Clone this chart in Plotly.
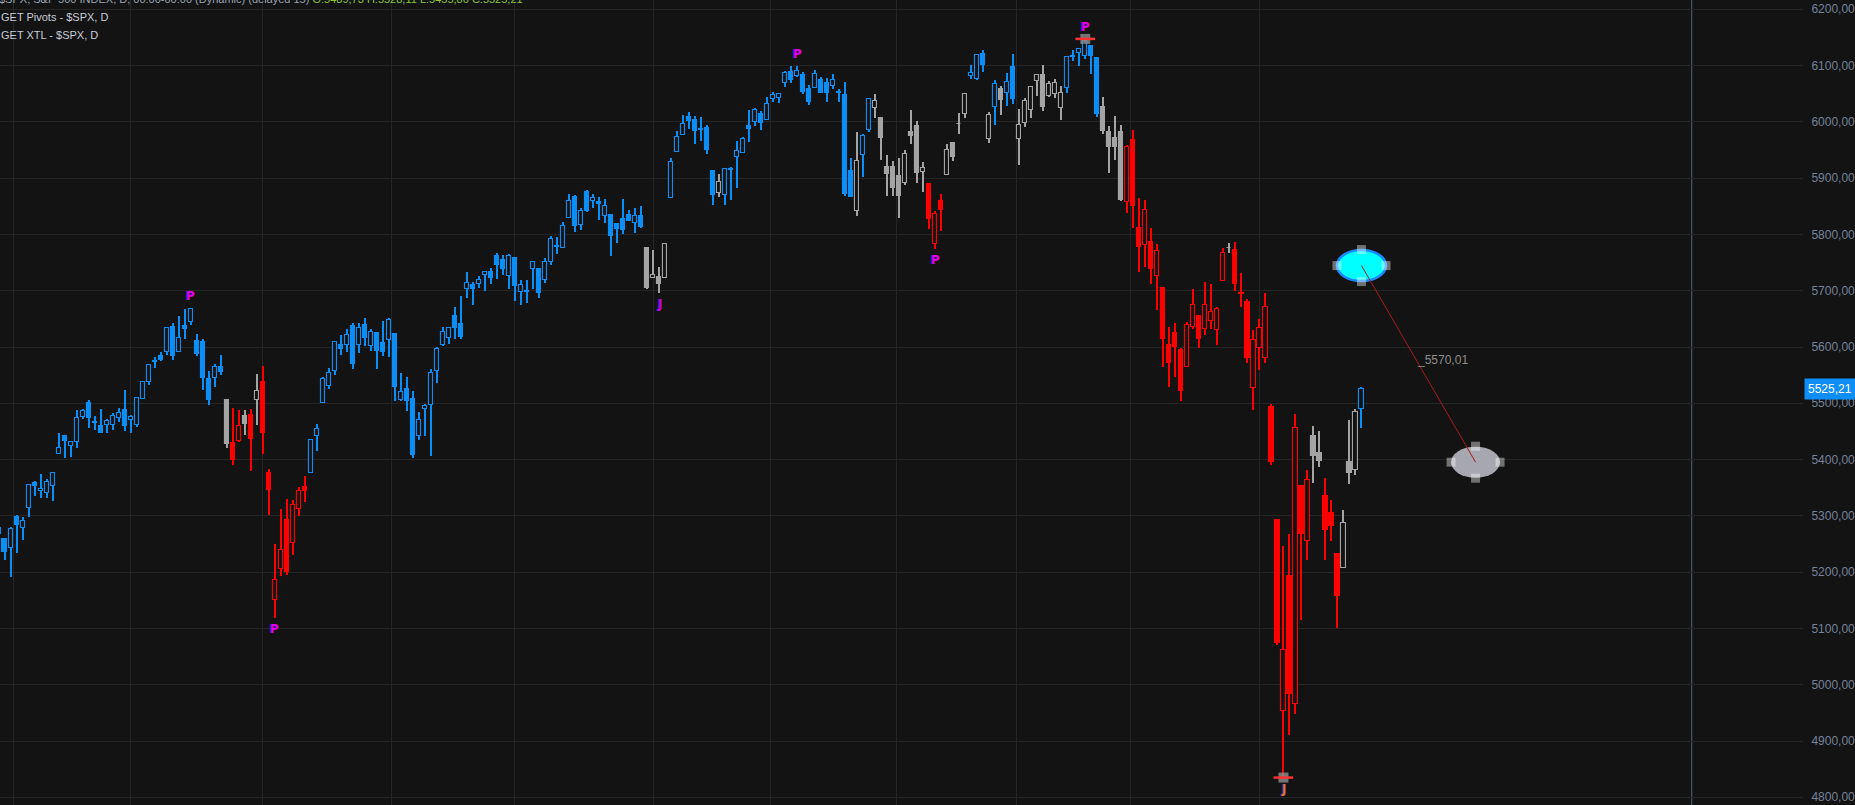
import numpy as np
import plotly.graph_objects as go

# ---------------- data (S&P 500 daily) ----------------
dates = [
    "2024-05-29", "2024-05-30", "2024-05-31",
    "2024-06-03", "2024-06-04", "2024-06-05", "2024-06-06", "2024-06-07", "2024-06-10", "2024-06-11",
    "2024-06-12", "2024-06-13", "2024-06-14", "2024-06-17", "2024-06-18", "2024-06-20", "2024-06-21",
    "2024-06-24", "2024-06-25", "2024-06-26", "2024-06-27", "2024-06-28",
    "2024-07-01", "2024-07-02", "2024-07-03", "2024-07-05", "2024-07-08", "2024-07-09", "2024-07-10",
    "2024-07-11", "2024-07-12", "2024-07-15", "2024-07-16", "2024-07-17", "2024-07-18", "2024-07-19",
    "2024-07-22", "2024-07-23", "2024-07-24", "2024-07-25", "2024-07-26", "2024-07-29", "2024-07-30",
    "2024-07-31",
    "2024-08-01", "2024-08-02", "2024-08-05", "2024-08-06", "2024-08-07", "2024-08-08", "2024-08-09",
    "2024-08-12", "2024-08-13", "2024-08-14", "2024-08-15", "2024-08-16", "2024-08-19", "2024-08-20",
    "2024-08-21", "2024-08-22", "2024-08-23", "2024-08-26", "2024-08-27", "2024-08-28", "2024-08-29",
    "2024-08-30",
    "2024-09-03", "2024-09-04", "2024-09-05", "2024-09-06", "2024-09-09", "2024-09-10", "2024-09-11",
    "2024-09-12", "2024-09-13", "2024-09-16", "2024-09-17", "2024-09-18", "2024-09-19", "2024-09-20",
    "2024-09-23", "2024-09-24", "2024-09-25", "2024-09-26", "2024-09-27", "2024-09-30",
    "2024-10-01", "2024-10-02", "2024-10-03", "2024-10-04", "2024-10-07", "2024-10-08", "2024-10-09",
    "2024-10-10", "2024-10-11", "2024-10-14", "2024-10-15", "2024-10-16", "2024-10-17", "2024-10-18",
    "2024-10-21", "2024-10-22", "2024-10-23", "2024-10-24", "2024-10-25", "2024-10-28", "2024-10-29",
    "2024-10-30", "2024-10-31",
    "2024-11-01", "2024-11-04", "2024-11-05", "2024-11-06", "2024-11-07", "2024-11-08", "2024-11-11",
    "2024-11-12", "2024-11-13", "2024-11-14", "2024-11-15", "2024-11-18", "2024-11-19", "2024-11-20",
    "2024-11-21", "2024-11-22", "2024-11-25", "2024-11-26", "2024-11-27", "2024-11-29",
    "2024-12-02", "2024-12-03", "2024-12-04", "2024-12-05", "2024-12-06", "2024-12-09", "2024-12-10",
    "2024-12-11", "2024-12-12", "2024-12-13", "2024-12-16", "2024-12-17", "2024-12-18", "2024-12-19",
    "2024-12-20", "2024-12-23", "2024-12-24", "2024-12-26", "2024-12-27", "2024-12-30", "2024-12-31",
    "2025-01-02", "2025-01-03", "2025-01-06", "2025-01-07", "2025-01-08", "2025-01-10", "2025-01-13",
    "2025-01-14", "2025-01-15", "2025-01-16", "2025-01-17", "2025-01-21", "2025-01-22", "2025-01-23",
    "2025-01-24", "2025-01-27", "2025-01-28", "2025-01-29", "2025-01-30", "2025-01-31",
    "2025-02-03", "2025-02-04", "2025-02-05", "2025-02-06", "2025-02-07", "2025-02-10", "2025-02-11",
    "2025-02-12", "2025-02-13", "2025-02-14", "2025-02-18", "2025-02-19", "2025-02-20", "2025-02-21",
    "2025-02-24", "2025-02-25", "2025-02-26", "2025-02-27", "2025-02-28",
    "2025-03-03", "2025-03-04", "2025-03-05", "2025-03-06", "2025-03-07", "2025-03-10", "2025-03-11",
    "2025-03-12", "2025-03-13", "2025-03-14", "2025-03-17", "2025-03-18", "2025-03-19", "2025-03-20",
    "2025-03-21", "2025-03-24", "2025-03-25", "2025-03-26", "2025-03-27", "2025-03-28", "2025-03-31",
    "2025-04-01", "2025-04-02", "2025-04-03", "2025-04-04", "2025-04-07", "2025-04-08", "2025-04-09",
    "2025-04-10", "2025-04-11", "2025-04-14", "2025-04-15", "2025-04-16", "2025-04-17", "2025-04-21",
    "2025-04-22", "2025-04-23", "2025-04-24", "2025-04-25",
]

opens = [
    5278.73, 5259.77, 5243.21,
    5297.15, 5278.24, 5314.48, 5357.80, 5343.81, 5341.22, 5353.00, 5409.13, 5441.93, 5424.08, 5431.11,
    5476.15, 5499.99, 5466.77, 5459.58, 5460.73, 5460.71, 5473.59, 5488.48,
    5471.08, 5461.84, 5507.44, 5537.91, 5572.75, 5584.24, 5591.26, 5635.21, 5590.76, 5638.16, 5644.09,
    5610.07, 5608.56, 5543.37, 5544.59, 5565.30, 5505.84, 5428.70, 5433.67, 5476.55, 5478.73, 5505.59,
    5537.84, 5376.63, 5151.14, 5206.42, 5293.13, 5252.57, 5312.70, 5351.88, 5376.98, 5442.59, 5501.13,
    5530.50, 5557.23, 5602.88, 5603.09, 5637.77, 5602.89, 5639.66, 5602.42, 5624.51, 5607.30, 5612.74,
    5623.89, 5506.68, 5524.66, 5507.33, 5442.07, 5490.51, 5496.42, 5557.48, 5603.34, 5615.21, 5655.51,
    5641.68, 5702.63, 5709.42, 5711.90, 5727.86, 5733.65, 5762.22, 5755.36, 5726.52,
    5757.73, 5698.19, 5698.18, 5737.80, 5737.80, 5719.14, 5751.80, 5778.36, 5775.09, 5829.81, 5866.74,
    5816.58, 5875.62, 5859.43, 5857.82, 5832.70, 5834.50, 5817.80, 5826.75, 5833.93, 5819.68, 5832.65,
    5775.34,
    5723.22, 5725.15, 5722.43, 5864.89, 5947.21, 5976.76, 6008.86, 6003.60, 5985.75, 5989.68, 5912.79,
    5874.17, 5870.00, 5914.84, 5938.00, 5944.36, 5992.28, 6000.03, 6014.11, 6003.98,
    6040.11, 6042.97, 6069.39, 6089.03, 6081.38, 6083.01, 6057.59, 6060.15, 6074.29, 6068.17, 6063.79,
    6052.55, 6047.65, 5912.71, 5842.00, 5940.25, 5984.74, 6024.97, 6006.17, 5920.67, 5919.74,
    5903.26, 5891.07, 5982.81, 5993.26, 5910.66, 5890.41, 5782.17, 5859.94, 5905.21, 5961.75, 5995.36,
    6014.12, 6081.39, 6076.32, 6121.43, 5969.04, 6026.97, 6057.70, 6050.75, 6096.79,
    5969.65, 5998.14, 6020.45, 6072.22, 6083.13, 6046.40, 6049.32, 6025.08, 6060.59, 6115.52, 6121.60,
    6117.76, 6134.50, 6114.10, 6026.69, 5982.73, 5970.87, 5981.88, 5856.74,
    5968.33, 5811.98, 5781.40, 5785.87, 5726.01, 5705.37, 5603.65, 5624.84, 5594.45, 5563.85, 5635.60,
    5654.53, 5632.37, 5646.92, 5630.73, 5718.08, 5775.08, 5771.66, 5695.64, 5679.41, 5527.91,
    5597.53, 5580.76, 5492.74, 5292.14, 4953.79, 5193.57, 4965.28, 5353.15, 5255.56, 5441.96, 5411.99,
    5335.75, 5305.45, 5232.94, 5207.67, 5395.92, 5381.38, 5489.73,
]

highs = [
    5282.26, 5260.21, 5280.33,
    5302.11, 5298.80, 5354.16, 5362.35, 5375.08, 5365.79, 5375.95, 5447.25, 5441.93, 5432.39, 5488.50,
    5490.38, 5505.53, 5478.31, 5490.66, 5472.88, 5483.14, 5490.81, 5523.64,
    5479.55, 5509.69, 5539.27, 5570.33, 5583.11, 5590.75, 5635.39, 5642.45, 5655.56, 5666.94, 5669.67,
    5622.49, 5614.05, 5557.50, 5570.36, 5585.34, 5508.04, 5491.59, 5488.32, 5487.74, 5489.46, 5551.51,
    5566.16, 5383.89, 5250.89, 5312.34, 5330.64, 5328.03, 5351.50, 5371.20, 5436.50, 5463.22, 5546.23,
    5561.98, 5608.30, 5620.51, 5632.68, 5643.22, 5641.82, 5651.62, 5631.18, 5627.03, 5646.95, 5651.37,
    5623.89, 5552.99, 5546.30, 5522.47, 5484.20, 5497.91, 5560.41, 5600.71, 5636.27, 5636.05, 5670.81,
    5689.75, 5733.57, 5715.14, 5725.36, 5735.32, 5741.03, 5767.37, 5763.78, 5765.14,
    5757.73, 5719.14, 5718.78, 5753.65, 5739.34, 5757.60, 5796.80, 5795.03, 5822.13, 5871.41, 5870.36,
    5846.52, 5878.46, 5872.17, 5866.92, 5863.04, 5834.85, 5817.80, 5862.82, 5842.92, 5847.19, 5850.94,
    5775.34,
    5772.46, 5741.43, 5783.44, 5936.14, 5983.84, 6012.45, 6017.31, 6009.92, 6008.19, 5993.88, 5915.10,
    5908.12, 5917.11, 5920.67, 5965.97, 5972.90, 6020.75, 6025.42, 6020.16, 6044.17,
    6053.58, 6052.07, 6089.84, 6099.97, 6099.97, 6088.51, 6065.40, 6092.59, 6079.68, 6078.58, 6085.19,
    6057.68, 6070.67, 5935.52, 5982.06, 5978.25, 6040.10, 6049.75, 6006.17, 5940.79, 5929.74,
    5935.09, 5949.34, 6021.04, 6000.68, 5927.89, 5890.41, 5841.80, 5871.92, 5960.61, 5964.69, 6014.96,
    6051.51, 6100.81, 6118.73, 6128.18, 6017.17, 6074.54, 6062.83, 6086.64, 6120.91,
    6022.13, 6042.48, 6062.86, 6084.03, 6101.28, 6073.38, 6076.28, 6063.45, 6116.91, 6127.47, 6129.63,
    6147.43, 6134.50, 6114.82, 6043.65, 5992.65, 6009.82, 5993.69, 5959.40,
    5986.09, 5865.08, 5860.59, 5812.08, 5783.01, 5705.37, 5636.30, 5642.19, 5597.78, 5645.27, 5703.52,
    5654.53, 5715.33, 5711.15, 5670.84, 5775.14, 5783.95, 5786.95, 5732.28, 5685.89, 5630.43,
    5650.57, 5695.31, 5499.53, 5292.14, 5246.57, 5267.47, 5481.34, 5353.15, 5381.46, 5459.46, 5450.41,
    5367.24, 5328.31, 5232.94, 5309.60, 5469.69, 5489.40, 5528.11,
]

lows = [
    5262.70, 5222.10, 5191.68,
    5234.32, 5257.63, 5297.64, 5335.36, 5331.33, 5331.52, 5327.25, 5409.13, 5403.41, 5403.75, 5420.40,
    5471.32, 5455.56, 5452.03, 5447.59, 5446.56, 5451.87, 5467.54, 5451.12,
    5446.53, 5458.43, 5507.42, 5531.63, 5562.51, 5574.57, 5586.44, 5576.53, 5590.44, 5614.75, 5639.02,
    5584.81, 5522.81, 5497.04, 5529.04, 5550.90, 5419.98, 5390.95, 5430.70, 5444.44, 5379.35, 5461.66,
    5410.42, 5302.03, 5119.26, 5193.56, 5195.54, 5231.18, 5300.00, 5324.37, 5376.98, 5415.70, 5501.13,
    5525.17, 5550.74, 5585.50, 5591.57, 5560.95, 5590.16, 5602.34, 5593.48, 5560.95, 5583.71, 5581.79,
    5504.33, 5503.66, 5485.51, 5402.62, 5434.49, 5441.72, 5406.96, 5535.50, 5601.65, 5604.53, 5614.05,
    5615.08, 5686.42, 5674.49, 5704.94, 5698.99, 5712.06, 5721.01, 5727.34, 5703.53,
    5681.28, 5674.00, 5677.37, 5702.96, 5686.85, 5714.56, 5745.02, 5764.76, 5775.09, 5829.81, 5804.48,
    5808.34, 5840.25, 5846.11, 5824.82, 5821.17, 5762.41, 5784.92, 5799.98, 5823.08, 5802.90, 5811.28,
    5703.67,
    5723.22, 5696.51, 5722.10, 5864.89, 5947.21, 5976.76, 5986.69, 5960.08, 5965.91, 5942.28, 5853.01,
    5865.95, 5853.01, 5860.57, 5882.00, 5944.36, 5963.91, 5992.27, 5984.87, 6003.98,
    6035.33, 6033.39, 6061.06, 6069.38, 6079.98, 6048.63, 6029.89, 6060.15, 6051.25, 6035.77, 6059.14,
    6035.19, 5867.79, 5866.07, 5832.30, 5902.57, 5981.44, 6007.37, 5932.95, 5869.16, 5868.86,
    5829.53, 5888.66, 5960.01, 5890.68, 5874.78, 5809.61, 5773.31, 5805.45, 5905.21, 5931.00, 5978.44,
    6006.88, 6076.13, 6074.67, 6088.74, 5962.92, 5994.63, 6012.96, 6027.46, 6030.93,
    5923.93, 5990.87, 6007.06, 6046.83, 6019.96, 6044.84, 6042.34, 6003.00, 6051.00, 6107.62, 6099.51,
    6111.15, 6084.59, 6008.56, 5977.83, 5908.49, 5932.69, 5858.78, 5837.66,
    5810.91, 5732.59, 5742.35, 5711.64, 5666.29, 5564.02, 5528.41, 5546.09, 5504.65, 5563.85, 5631.12,
    5597.76, 5622.20, 5632.30, 5603.10, 5718.08, 5767.26, 5699.84, 5670.94, 5572.42, 5488.73,
    5558.52, 5571.48, 5390.83, 5069.90, 4835.04, 4910.42, 4948.43, 5115.27, 5220.77, 5358.02, 5386.44,
    5220.79, 5255.58, 5101.63, 5207.67, 5356.50, 5371.96, 5455.86,
]

closes = [
    5266.95, 5235.48, 5277.51,
    5283.40, 5291.34, 5354.03, 5352.96, 5346.99, 5360.79, 5375.32, 5421.03, 5433.74, 5431.60, 5473.23,
    5487.03, 5473.17, 5464.62, 5447.87, 5469.30, 5477.90, 5482.87, 5460.48,
    5475.09, 5509.01, 5537.02, 5567.19, 5572.85, 5576.98, 5633.91, 5584.54, 5615.35, 5631.22, 5667.20,
    5588.27, 5544.59, 5505.00, 5564.41, 5555.74, 5427.13, 5399.22, 5459.10, 5463.54, 5436.44, 5522.30,
    5446.68, 5346.56, 5186.33, 5240.03, 5199.50, 5319.31, 5344.16, 5344.39, 5434.43, 5455.21, 5543.22,
    5554.25, 5608.25, 5597.12, 5620.85, 5570.64, 5634.61, 5616.84, 5625.80, 5592.18, 5591.96, 5648.40,
    5528.93, 5520.07, 5503.41, 5408.42, 5471.05, 5495.52, 5554.13, 5595.76, 5626.02, 5633.09, 5634.58,
    5618.26, 5713.64, 5702.55, 5718.57, 5732.93, 5722.26, 5745.37, 5738.17, 5762.48,
    5708.75, 5709.54, 5699.94, 5751.07, 5695.94, 5751.13, 5792.04, 5780.05, 5815.03, 5859.85, 5815.26,
    5842.47, 5841.47, 5864.67, 5853.98, 5851.20, 5797.42, 5809.86, 5808.12, 5823.52, 5832.92, 5813.67,
    5705.45,
    5728.80, 5712.69, 5782.76, 5929.04, 5973.10, 5995.54, 6001.35, 5983.99, 5985.38, 5949.17, 5870.62,
    5893.62, 5916.98, 5917.11, 5948.71, 5969.34, 5987.37, 6021.63, 5998.74, 6032.38,
    6047.15, 6049.88, 6086.49, 6075.11, 6090.27, 6052.85, 6034.91, 6084.19, 6051.25, 6051.09, 6074.08,
    6050.61, 5872.16, 5867.08, 5930.85, 5974.07, 6040.04, 6037.59, 5970.84, 5906.94, 5881.63,
    5868.55, 5942.47, 5975.38, 5909.03, 5918.25, 5827.04, 5836.22, 5842.91, 5949.91, 5937.34, 5996.66,
    6049.24, 6086.37, 6118.71, 6101.24, 6012.28, 6067.70, 6039.31, 6071.17, 6040.53,
    5994.57, 6037.88, 6061.48, 6083.57, 6025.99, 6066.44, 6068.50, 6051.97, 6115.07, 6114.63, 6129.58,
    6144.15, 6117.52, 6013.13, 5983.25, 5955.25, 5956.06, 5861.57, 5954.50,
    5849.72, 5778.15, 5842.63, 5738.52, 5770.20, 5614.56, 5572.07, 5599.30, 5521.52, 5638.94, 5675.12,
    5614.66, 5675.29, 5662.89, 5667.56, 5767.57, 5776.65, 5712.20, 5693.31, 5580.94, 5611.85,
    5633.07, 5670.97, 5396.52, 5074.08, 5062.25, 4982.77, 5456.90, 5268.05, 5363.36, 5405.97, 5396.63,
    5275.70, 5282.70, 5158.20, 5287.76, 5375.86, 5484.77, 5525.21,
]

# trend state segments: (first date of segment, state)  B = blue, G = gray, R = red
trend_start = ["2024-05-29", "2024-07-24", "2024-07-25", "2024-07-29", "2024-07-30", "2024-07-31",
               "2024-08-01", "2024-08-13", "2024-10-31", "2024-11-06", "2024-11-18", "2024-11-19",
               "2024-12-20", "2024-12-23", "2024-12-26", "2025-01-10", "2025-01-15", "2025-01-22",
               "2025-01-27", "2025-01-28", "2025-01-29", "2025-01-30", "2025-02-03", "2025-02-13",
               "2025-02-24", "2025-02-28", "2025-03-25", "2025-03-26", "2025-04-14", "2025-04-16",
               "2025-04-22", "2025-04-25"]
trend_state = ["B", "G", "R", "G", "R", "G",
               "R", "B", "G", "B", "G", "B",
               "G", "B", "G", "R", "G", "B",
               "G", "B", "G", "B", "G", "B",
               "G", "R", "G", "R", "G", "R",
               "G", "B"]

# pivot labels
pivot_date = ["2024-07-16", "2024-08-05", "2024-11-04", "2024-12-06", "2025-01-13", "2025-02-19", "2025-04-07"]
pivot_text = ["P", "P", "J", "P", "P", "P", "J"]
pivot_at = ["high", "low", "low", "high", "low", "high", "low"]
pivot_color = ["#e400e4", "#e400e4", "#d000d8", "#e400e4", "#e400e4", "#e400e4", "#e0743c"]
marked_date = ["2025-02-19", "2025-04-07"]
marked_at = ["high", "low"]

# projection drawing (two anchor points: bar position, price)
drawing_bar = [226, 245]
drawing_price = [5744.65, 5395.37]

# ---------------- figure ----------------
n = len(dates)
lens = [len(opens), len(highs), len(lows), len(closes), n]
if len(set(lens)) != 1:
    raise ValueError(f"length mismatch {lens}")
x = np.arange(n) - 1
o = np.array(opens); h = np.array(highs); l = np.array(lows); c = np.array(closes)
trend = []
for d in dates:
    st = None
    for s, k in zip(trend_start, trend_state):
        if d >= s:
            st = k
    trend.append(st)
tr = np.array(trend)

BG = "#131313"
GRID = "#252525"
COL = {"B": "#0b8ef6", "G": "#a4a4a4", "R": "#ff0000"}

fig = go.Figure()

# wicks
for k in "BGR":
    m = tr == k
    fig.add_trace(go.Bar(x=x[m], base=l[m], y=(h - l)[m], width=0.17,
                         marker=dict(color=COL[k], line=dict(width=0)),
                         hoverinfo="skip", showlegend=False))
# bodies (filled = close < open, hollow = close >= open)
for k in "BGR":
    for up in (False, True):
        m = (tr == k) & ((c >= o) == up)
        base = np.minimum(o, c)[m]
        ht = np.maximum(np.abs(c - o)[m], 1.6)
        fig.add_trace(go.Bar(x=x[m], base=base, y=ht, width=0.7,
                             marker=dict(color=BG if up else COL[k],
                                         line=dict(color=COL[k], width=1.1)),
                             hoverinfo="skip", showlegend=False))

# pivot box markers
mi = [dates.index(d) for d in marked_date]
mx = [x[i] for i in mi]
my = [h[i] if s == "high" else l[i] for i, s in zip(mi, marked_at)]
fig.add_trace(go.Scatter(x=mx, y=my, mode="markers",
                         marker=dict(symbol="square", size=10, color="rgba(150,150,150,0.75)",
                                     line=dict(width=0)), hoverinfo="skip", showlegend=False))
fig.add_trace(go.Scatter(x=mx, y=my, mode="markers",
                         marker=dict(symbol="line-ew", size=14, line=dict(color="#ff3030", width=2.5)),
                         hoverinfo="skip", showlegend=False))

annotations = []
for d, t, s, col in zip(pivot_date, pivot_text, pivot_at, pivot_color):
    i = dates.index(d)
    yv = h[i] if s == "high" else l[i]
    ys = 12 if s == "high" else -11
    for xs, cc in ((-1, "#3a22c8"), (0, col)):
        annotations.append(dict(x=x[i], y=yv, xref="x", yref="y", text=t, showarrow=False,
                                yshift=ys, xshift=xs, yanchor="middle",
                                font=dict(family="DejaVu Sans", size=12, color=cc, weight="bold")))

def fmt(v):
    return f"{v:.2f}".replace(".", ",")

# midpoint label of the projection line
mid_bar = (drawing_bar[0] + drawing_bar[1]) / 2
mid_price = (drawing_price[0] + drawing_price[1]) / 2
annotations.append(dict(x=mid_bar, y=mid_price, xref="x", yref="y", text="_" + fmt(mid_price),
                        showarrow=False, xanchor="left", yanchor="middle", xshift=-4, yshift=4,
                        font=dict(family="Liberation Sans", size=12, color="#8d8d8d")))

# last price tag
annotations.append(dict(x=1, y=c[-1], xref="paper", yref="y", text=fmt(c[-1]), showarrow=False,
                        xanchor="left", yanchor="middle", xshift=1, bgcolor="#0e8ef6", borderpad=3,
                        font=dict(family="Liberation Sans", size=12, color="#ffffff")))

# header texts
hdr = ("$SPX, S&amp;P 500 INDEX, D, 00:00-00:00 (Dynamic) (delayed 15) "
       f"<span style='color:#8cc43c'>O:{fmt(o[-1])} H:{fmt(h[-1])} L:{fmt(l[-1])} C:{fmt(c[-1])}</span>")
annotations.append(dict(x=0, y=1, xref="paper", yref="paper", text=hdr, showarrow=False,
                        xanchor="left", yanchor="middle", xshift=-3, yshift=1,
                        font=dict(family="Liberation Sans", size=11, color="#9aa2b0")))
for txt, ys in (("GET Pivots - $SPX, D", -17), ("GET XTL - $SPX, D", -35)):
    annotations.append(dict(x=0, y=1, xref="paper", yref="paper", text=txt, showarrow=False,
                            xanchor="left", yanchor="middle", xshift=-1, yshift=ys,
                            font=dict(family="Liberation Sans", size=11, color="#c6ccd8")))

# month grid lines
month_lines = []
for i in range(1, n):
    if dates[i][5:7] != dates[i - 1][5:7]:
        month_lines.append(float(x[i]) - (0 if int(dates[i][8:10]) == 1 else 0.5))

# shapes: projection drawing
shapes = []
def ellipse(xa, ya, fill, line):
    return dict(type="circle", xref="x", yref="y", xsizemode="pixel", ysizemode="pixel",
                xanchor=xa, yanchor=ya, x0=-24.5, x1=24.5, y0=-15.5, y1=15.5,
                fillcolor=fill, line=line, layer="above")
def handle(xa, ya, dx, dy):
    return dict(type="rect", xref="x", yref="y", xsizemode="pixel", ysizemode="pixel",
                xanchor=xa, yanchor=ya, x0=dx - 4.5, x1=dx + 4.5, y0=dy - 4.5, y1=dy + 4.5,
                fillcolor="rgba(255,255,255,0.40)", line=dict(width=0), layer="above")

shapes.append(ellipse(drawing_bar[0], drawing_price[0], "#00ffff", dict(color="#1a88ff", width=2.5)))
shapes.append(ellipse(drawing_bar[1], drawing_price[1], "#a7a7af", dict(width=0)))
for xa, ya in zip(drawing_bar, drawing_price):
    for dx, dy in ((0, 16), (0, -16), (-24.5, 0), (24.5, 0)):
        shapes.append(handle(xa, ya, dx, dy))
shapes.append(dict(type="line", xref="x", yref="y", x0=drawing_bar[0], y0=drawing_price[0],
                   x1=drawing_bar[1], y1=drawing_price[1], line=dict(color="#a81c1c", width=1),
                   layer="above"))
# right-hand time boundary line
future_bar = float(x[-1]) + 55
shapes.append(dict(type="line", xref="x", yref="paper", x0=future_bar, x1=future_bar, y0=0, y1=1,
                   line=dict(color="#566075", width=1), layer="below"))

fig.update_layout(
    width=1855, height=805,
    margin=dict(l=0, r=50, t=0, b=0),
    paper_bgcolor=BG, plot_bgcolor=BG,
    barmode="overlay", bargap=0,
    showlegend=False,
    separators=",.",
    annotations=annotations,
    shapes=shapes,
    xaxis=dict(range=[-0.765, 299.54], tickmode="array", tickvals=month_lines,
               showticklabels=False, showgrid=True, gridcolor=GRID, gridwidth=1,
               zeroline=False, showline=False, ticks="", fixedrange=True),
    yaxis=dict(side="right", range=[4786.3, 6216.5], tick0=4800, dtick=100, tickformat=".2f",
               showgrid=True, gridcolor=GRID, gridwidth=1, zeroline=False, showline=False,
               ticks="outside", ticklen=5, tickcolor="rgba(0,0,0,0)",
               tickfont=dict(family="Liberation Sans", size=12, color="#75829a"), fixedrange=True),
    hovermode=False,
)

fig.write_html("out.html", config={"displayModeBar": False},
               post_script="document.body.style.margin='0';document.body.style.overflow='hidden';")
